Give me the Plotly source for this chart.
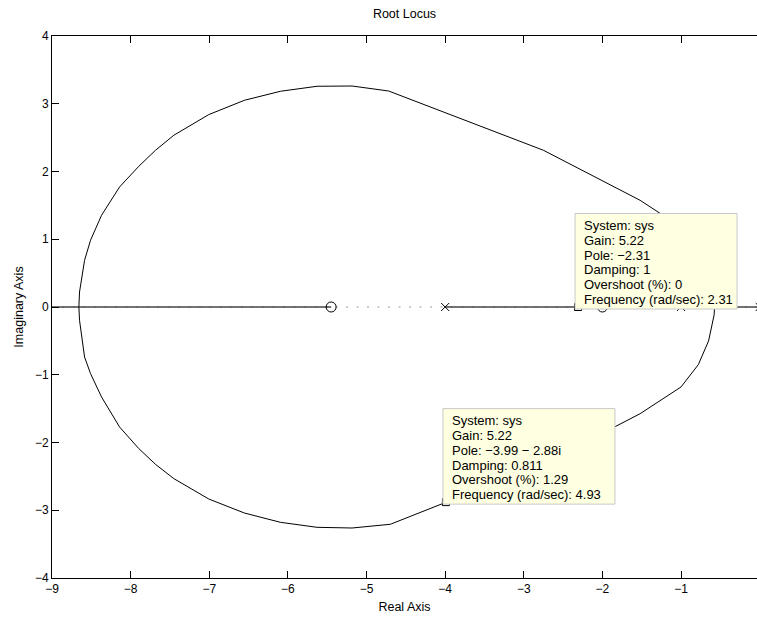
import plotly.graph_objects as go

# ---- data ----
# complex branch, upper half (real, imag)
upper_re = [-0.574, -0.58, -0.65, -0.78, -1.00, -1.521, -2.750, -4.719, -5.184, -5.629,
            -6.095, -6.553, -7.006, -7.451, -7.684, -7.896, -8.141, -8.370, -8.510,
            -8.586, -8.650, -8.658]
upper_im = [0.0, 0.12, 0.50, 0.85, 1.18, 1.575, 2.313, 3.188, 3.262, 3.258,
            3.184, 3.051, 2.840, 2.535, 2.313, 2.077, 1.771, 1.354, 0.985,
            0.689, 0.221, 0.0]
# complex branch, lower half
lower_re = [-0.574, -0.58, -0.65, -0.78, -1.00, -1.521, -2.750, -3.99, -4.697, -5.184, -5.629,
            -6.095, -6.553, -7.006, -7.451, -7.684, -7.896, -8.141, -8.370, -8.510,
            -8.586, -8.650, -8.658]
lower_im = [0.0, -0.12, -0.50, -0.85, -1.18, -1.575, -2.313, -2.88, -3.207, -3.262, -3.252,
            -3.178, -3.041, -2.834, -2.533, -2.322, -2.090, -1.771, -1.328, -0.983,
            -0.738, -0.196, 0.0]
# real-axis locus segments (start, end)
seg_start = [-9.0, -4.0, -1.0]
seg_end = [-5.45, -2.0, 0.0]
# poles and zeros
poles = [-4.0, -1.0, 0.0]
zeros = [-5.45, -2.0]
# data tips
tip_re = [-2.31, -3.99]
tip_im = [0.0, -2.88]
tip_lines = [
    ["System: sys", "Gain: 5.22", "Pole: \u22122.31", "Damping: 1",
     "Overshoot (%): 0", "Frequency (rad/sec): 2.31"],
    ["System: sys", "Gain: 5.22", "Pole: \u22123.99 \u2212 2.88i", "Damping: 0.811",
     "Overshoot (%): 1.29", "Frequency (rad/sec): 4.93"],
]
tip_box_width = [162, 172]

FONT = "Liberation Sans, Arial, Helvetica, sans-serif"

fig = go.Figure()

# real-axis locus
for a, b in zip(seg_start, seg_end):
    fig.add_trace(go.Scatter(x=[a, b], y=[0, 0], mode="lines",
                             line=dict(color="#444444", width=1.4),
                             showlegend=False, hoverinfo="skip"))

# complex branches
fig.add_trace(go.Scatter(x=upper_re, y=upper_im, mode="lines",
                         line=dict(color="black", width=1), showlegend=False))
fig.add_trace(go.Scatter(x=lower_re, y=lower_im, mode="lines",
                         line=dict(color="black", width=1), showlegend=False))

# zeros and poles
fig.add_trace(go.Scatter(x=zeros, y=[0] * len(zeros), mode="markers",
                         marker=dict(symbol="circle-open", size=10,
                                     line=dict(color="black", width=1), color="black"),
                         showlegend=False))
fig.add_trace(go.Scatter(x=poles, y=[0] * len(poles), mode="markers",
                         marker=dict(symbol="x-thin-open", size=8,
                                     line=dict(color="black", width=1), color="black"),
                         showlegend=False))
# data tip markers
fig.add_trace(go.Scatter(x=tip_re, y=tip_im, mode="markers",
                         marker=dict(symbol="square-open", size=7,
                                     line=dict(color="black", width=1), color="black"),
                         showlegend=False))

shapes = [
    # dotted zero line along the real axis
    dict(type="line", xref="paper", yref="y", x0=0, x1=1, y0=0, y1=0,
         line=dict(color="#9a9a9a", width=1, dash="2px,8.5px"), layer="below"),
]
annotations = []
for re_, im_, lines, w in zip(tip_re, tip_im, tip_lines, tip_box_width):
    shapes.append(dict(type="rect", xref="x", yref="y", xsizemode="pixel", ysizemode="pixel",
                       xanchor=re_, yanchor=im_, x0=-3, x1=w - 3, y0=-2, y1=93.5,
                       fillcolor="#ffffe1", line=dict(color="#c8c8c8", width=1),
                       layer="above"))
    n = len(lines)
    for k, t in enumerate(lines):
        annotations.append(dict(x=re_, y=im_, xref="x", yref="y", text=t, showarrow=False,
                                xanchor="left", yanchor="middle", align="left",
                                xshift=4, yshift=7.5 + 14.8 * (n - 1 - k),
                                font=dict(family=FONT, size=13, color="black")))

fig.update_layout(
    width=757, height=617,
    margin=dict(l=52, r=0, t=36, b=39, autoexpand=False),
    paper_bgcolor="white", plot_bgcolor="white",
    font=dict(family=FONT, size=12, color="black"),
    title=dict(text="Root Locus", x=0.5, xref="paper", xanchor="center",
               y=1 - 14 / 617, yref="container", yanchor="middle",
               font=dict(family=FONT, size=12.5, color="black")),
    shapes=shapes, annotations=annotations,
    showlegend=False,
)
fig.update_xaxes(range=[-9, -0.0343], tickmode="linear", tick0=-9, dtick=1,
                 showline=True, linecolor="black", linewidth=1, mirror="ticks",
                 ticks="inside", ticklen=7, tickcolor="black", tickwidth=1,
                 showgrid=False, zeroline=False,
                 tickfont=dict(family=FONT, size=12, color="black"),
                 title=dict(text="Real Axis", standoff=6,
                            font=dict(family=FONT, size=12.5, color="black")))
fig.update_yaxes(range=[-4, 4], tickmode="linear", tick0=-4, dtick=1,
                 showline=True, linecolor="black", linewidth=1, mirror=False,
                 ticks="inside", ticklen=7, tickcolor="black", tickwidth=1,
                 showgrid=False, zeroline=False,
                 tickfont=dict(family=FONT, size=12, color="black"),
                 title=dict(text="Imaginary Axis", standoff=8,
                            font=dict(family=FONT, size=12.5, color="black")))

fig.write_html("out.html")
